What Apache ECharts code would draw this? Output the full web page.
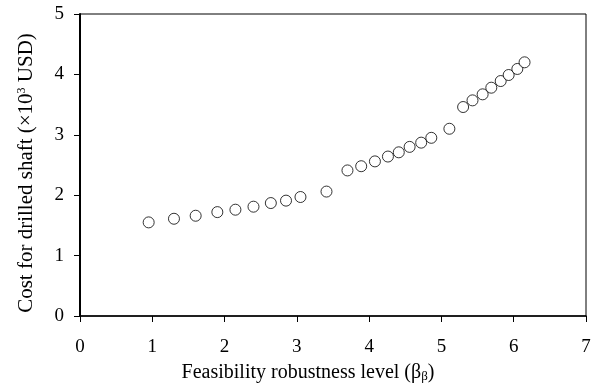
<!DOCTYPE html>
<html>
<head>
<meta charset="utf-8">
<script src="https://cdn.jsdelivr.net/npm/echarts@6/dist/echarts.min.js"></script>
<style>
  html, body { margin: 0; padding: 0; background: #fff; }
  #chart { width: 595px; height: 392px; }
</style>
</head>
<body>
<div id="chart"></div>
<script>
// feasibility robustness level (x) and drilled shaft cost, x10^3 USD (y)
const robustness = [0.95, 1.30, 1.60, 1.90, 2.15, 2.40, 2.64, 2.85, 3.05, 3.41, 3.70,
  3.89, 4.08, 4.26, 4.41, 4.56, 4.72, 4.86, 5.11, 5.30, 5.43, 5.57, 5.69, 5.82, 5.93, 6.05, 6.15];
const cost = [1.55, 1.61, 1.66, 1.72, 1.76, 1.81, 1.87, 1.91, 1.97, 2.06, 2.41,
  2.48, 2.56, 2.64, 2.71, 2.80, 2.87, 2.95, 3.10, 3.46, 3.57, 3.67, 3.78, 3.89, 3.99, 4.09, 4.20];
const xTicks = [0, 1, 2, 3, 4, 5, 6, 7];
const yTicks = [0, 1, 2, 3, 4, 5];

const font = '"Liberation Serif", "Times New Roman", serif';
const chart = echarts.init(document.getElementById('chart'));

chart.setOption({
  animation: false,
  grid: {
    left: 80, right: 9, top: 14, bottom: 76,
    show: true, borderColor: '#000', borderWidth: 1
  },
  xAxis: {
    type: 'value',
    min: xTicks[0], max: xTicks[xTicks.length - 1], interval: 1,
    name: '{m|Feasibility robustness level (β}{s|β}{m|)}',
    nameLocation: 'middle',
    nameGap: 47,
    nameTextStyle: {
      padding: [0, 50, 0, 0],
      rich: {
        m: { fontFamily: font, fontSize: 20, color: '#000' },
        s: { fontFamily: font, fontSize: 13, color: '#000', verticalAlign: 'bottom', lineHeight: 16 }
      }
    },
    axisLine: { lineStyle: { color: '#000', width: 1.5 } },
    axisTick: { show: true, length: 6, lineStyle: { color: '#000' } },
    axisLabel: { color: '#000', fontFamily: font, fontSize: 19, margin: 22 },
    splitLine: { show: false }
  },
  yAxis: {
    type: 'value',
    min: yTicks[0], max: yTicks[yTicks.length - 1], interval: 1,
    name: '{m|Cost for drilled shaft (×10}{p|3}{m| USD)}',
    nameLocation: 'middle',
    nameGap: 43,
    nameTextStyle: {
      padding: [0, 16, 0, 0],
      rich: {
        m: { fontFamily: font, fontSize: 21, color: '#000' },
        p: { fontFamily: font, fontSize: 12, color: '#000', verticalAlign: 'top', lineHeight: 17 }
      }
    },
    axisLine: { lineStyle: { color: '#000', width: 2 } },
    axisTick: { show: true, length: 6, lineStyle: { color: '#000' } },
    axisLabel: { color: '#000', fontFamily: font, fontSize: 19, margin: 16 },
    splitLine: { show: false }
  },
  series: [{
    type: 'scatter',
    data: robustness.map((x, i) => [x, cost[i]]),
    symbol: 'circle',
    symbolSize: 11,
    itemStyle: { color: '#fff', borderColor: '#000', borderWidth: 1 }
  }]
});
</script>
</body>
</html>
